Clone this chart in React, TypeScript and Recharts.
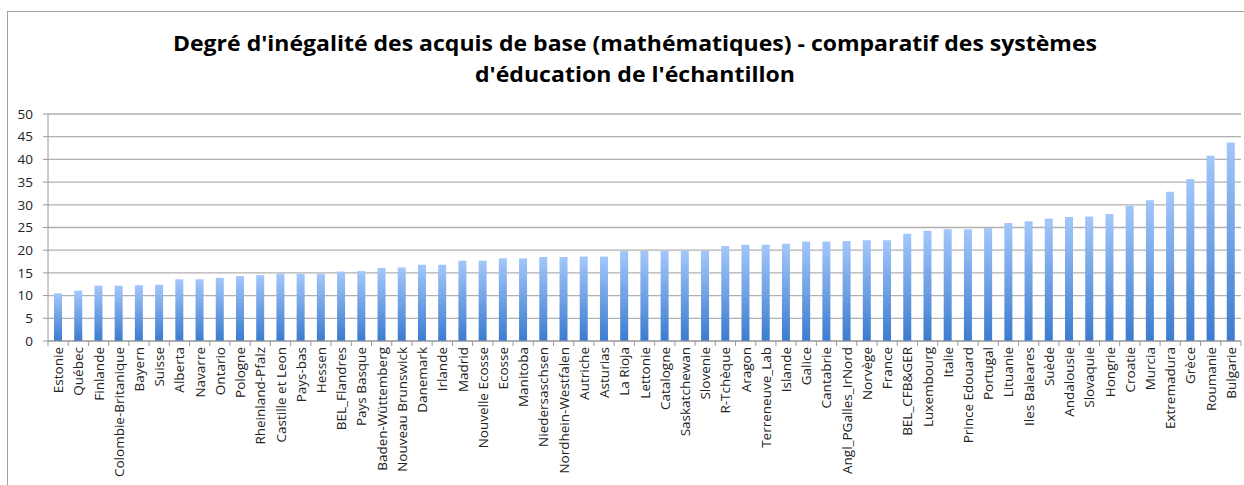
import { BarChart, Bar, XAxis, YAxis, CartesianGrid } from 'recharts'

const regions = [
  'Estonie', 'Québec', 'Finlande', 'Colombie-Britanique', 'Bayern', 'Suisse', 'Alberta', 'Navarre',
  'Ontario', 'Pologne', 'Rheinland-Pfalz', 'Castille et Leon', 'Pays-bas', 'Hessen', 'BEL_Flandres',
  'Pays Basque', 'Baden-Wüttemberg', 'Nouveau Brunswick', 'Danemark', 'Irlande', 'Madrid',
  'Nouvelle Ecosse', 'Ecosse', 'Manitoba', 'Niedersaschsen', 'Nordhein-Westfalen', 'Autriche',
  'Asturias', 'La Rioja', 'Lettonie', 'Catalogne', 'Saskatchewan', 'Slovenie', 'R-Tchèque', 'Aragon',
  'Terreneuve_Lab', 'Islande', 'Galice', 'Cantabrie', 'Angl_PGalles_IrNord', 'Norvège', 'France',
  'BEL_CFB&GER', 'Luxembourg', 'Italie', 'Prince Edouard', 'Portugal', 'Lituanie', 'Iles Baleares',
  'Suède', 'Andalousie', 'Slovaquie', 'Hongrie', 'Croatie', 'Murcia', 'Extremadura', 'Grèce',
  'Roumanie', 'Bulgarie',
]

const inegalite = [
  10.5, 11.1, 12.2, 12.2, 12.3, 12.4, 13.6, 13.6, 13.9, 14.3, 14.5, 14.8, 14.8, 14.8, 15.3,
  15.4, 16.1, 16.2, 16.8, 16.8, 17.7, 17.7, 18.2, 18.2, 18.5, 18.5, 18.6, 18.6, 19.8, 19.8,
  19.9, 19.9, 19.9, 20.9, 21.2, 21.2, 21.4, 21.9, 21.9, 22.0, 22.2, 22.2, 23.6, 24.3, 24.6,
  24.6, 24.9, 26.0, 26.4, 27.0, 27.3, 27.4, 28.0, 29.8, 31.0, 32.9, 35.7, 40.8, 43.7,
]

const yTicks = [0, 5, 10, 15, 20, 25, 30, 35, 40, 45, 50]
const titleLines = [
  "Degré d'inégalité des acquis de base (mathématiques) - comparatif des systèmes",
  "d'éducation de l'échantillon",
]

const data = regions.map((name, i) => ({ name, value: inegalite[i] }))

const FONT = '"Open Sans", "Liberation Sans", sans-serif'
const AXIS_GREY = '#9a9a9a'

// label rotated + tick marks drawn on category boundaries (like Excel)
function RegionTick({ x, y, payload, index }: any) {
  const half = payload.offset ?? 10.1
  return (
    <g>
      <line x1={x - half} x2={x - half} y1={y - 6} y2={y - 1} stroke={AXIS_GREY} />
      {index === regions.length - 1 && (
        <line x1={x + half} x2={x + half} y1={y - 6} y2={y - 1} stroke={AXIS_GREY} />
      )}
      <text
        x={x}
        y={y}
        transform={`rotate(-90, ${x}, ${y})`}
        textAnchor="end"
        dominantBaseline="central"
        fontSize={13.5}
        fontFamily={FONT}
        fill="#222"
      >
        {payload.value}
      </text>
    </g>
  )
}

export default function App() {
  return (
    <div style={{ position: 'fixed', left: 0, top: 0, width: 1244, height: 485, background: '#fff', overflow: 'hidden' }}>
      <div style={{ position: 'absolute', left: 7, top: 11, width: 1300, height: 600, border: '1px solid #a0a0a0' }} />
      <svg width={1244} height={100} style={{ position: 'absolute', left: 0, top: 0 }}>
        <text x={635} y={51} textAnchor="middle" fontSize={21} fontWeight="bold" fontFamily={FONT} fill="#000" textLength={924} lengthAdjust="spacingAndGlyphs">
          {titleLines[0]}
        </text>
        <text x={635} y={82} textAnchor="middle" fontSize={21} fontWeight="bold" fontFamily={FONT} fill="#000" textLength={320} lengthAdjust="spacingAndGlyphs">
          {titleLines[1]}
        </text>
      </svg>
      <div style={{ position: 'absolute', left: 0, top: 0 }}>
        <BarChart width={1244} height={485} data={data} margin={{ top: 114, right: 3, bottom: 0, left: 0 }}>
          <defs>
            <linearGradient id="barGrad" x1="0" y1="0" x2="0" y2="1">
              <stop offset="0%" stopColor="#a3c7fa" />
              <stop offset="100%" stopColor="#3b7bcf" />
            </linearGradient>
          </defs>
          <CartesianGrid vertical={false} stroke="#b0b0b0" strokeWidth={1.3} />
          <XAxis
            dataKey="name"
            interval={0}
            tick={<RegionTick />}
            tickLine={false}
            tickSize={0}
            tickMargin={6}
            axisLine={{ stroke: AXIS_GREY }}
            height={144}
          />
          <YAxis
            domain={[0, 50]}
            ticks={yTicks}
            interval={0}
            width={48}
            tickSize={5}
            tickMargin={10}
            tickLine={{ stroke: AXIS_GREY }}
            axisLine={{ stroke: AXIS_GREY }}
            tick={{ fontSize: 13.5, fill: '#222', fontFamily: FONT }}
          />
          <Bar dataKey="value" fill="url(#barGrad)" barSize={8} isAnimationActive={false} />
        </BarChart>
      </div>
    </div>
  )
}
